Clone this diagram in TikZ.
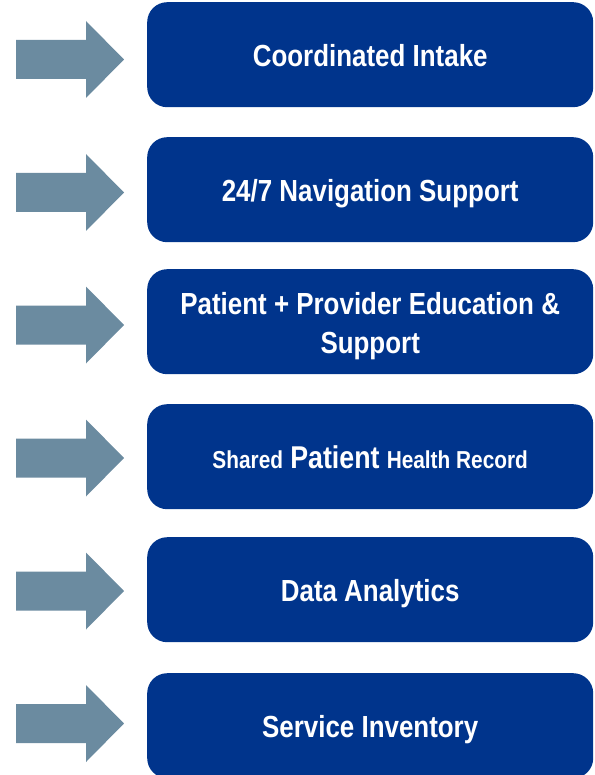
\documentclass[tikz,border=0pt]{standalone}
\usepackage{fontspec}
\setmainfont{Liberation Sans}[FakeStretch=0.85]
\definecolor{boxblue}{RGB}{0,52,140}
\definecolor{arrowgray}{RGB}{107,139,160}
\begin{document}
\begin{tikzpicture}[x=1pt,y=-1pt,
  box/.style={fill=boxblue,rounded corners=20pt,draw=none},
  lbl/.style={text=white,font=\bfseries\fontsize{30.5}{39}\selectfont,align=center,inner sep=0pt},
  small/.style={font=\bfseries\fontsize{24.5}{30}\selectfont},
  arr/.style={fill=arrowgray}]
\useasboundingbox (0,0) rectangle (594,775);
\clip (0,0) rectangle (594,775);
% boxes
\foreach \n/\t in {1/2,2/137,3/269,4/404,5/537,6/673}{
  \node[box,minimum width=446pt,minimum height=105pt,inner sep=0pt,anchor=north west] (b\n) at (147,\t) {};
}
% arrows
\foreach \n/\c in {1/59.5,2/192.5,3/325,4/458,5/591,6/723.5}{
  \fill[arr] (16,\c-19.5) -- (86,\c-19.5) -- (86,\c-38.5) -- (124,\c) -- (86,\c+38.5) -- (86,\c+19.5) -- (16,\c+19.5) -- cycle;
}
\node[lbl,anchor=base] (t1) at ([yshift=-11.5pt]b1.center) {Coordinated Intake};
\node[lbl,anchor=base] (t2) at ([yshift=-11.5pt]b2.center) {24/7 Navigation Support};
\node[lbl] (t3) at ([yshift=-4.5pt]b3.center) {Patient + Provider Education \&\\Support};
\node[lbl,anchor=base] (t4) at ([yshift=-12pt]b4.center) {{\fontsize{24.5}{30}\selectfont Shared} {\fontsize{31.5}{39}\selectfont Patient} {\fontsize{24.5}{30}\selectfont Health Record}};
\node[lbl,anchor=base] (t5) at ([yshift=-11.5pt]b5.center) {Data Analytics};
\node[lbl,anchor=base] (t6) at ([yshift=-11.5pt]b6.center) {Service Inventory};
\end{tikzpicture}
\end{document}
